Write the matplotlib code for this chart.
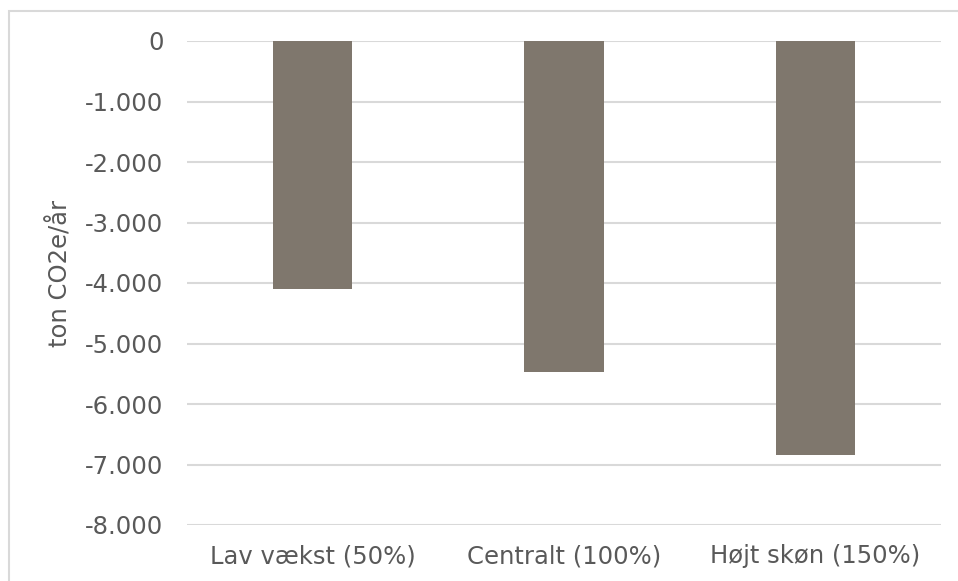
import matplotlib
matplotlib.use("Agg")
import matplotlib.pyplot as plt
from matplotlib.ticker import FuncFormatter, MultipleLocator
from matplotlib.patches import Rectangle

categories = ["Lav vækst (50%)", "Centralt (100%)", "Højt skøn (150%)"]
values = [-4100, -5470, -6840]
y_label = "ton CO2e/år"

bar_color = "#7F776D"
text_color = "#595959"
grid_color = "#D9D9D9"
font_size = 17.5

plt.rcParams["font.family"] = ["DejaVu Sans"]

fig = plt.figure(figsize=(9.58, 5.81), dpi=100)
fig.patch.set_facecolor("white")

# light outer frame around the chart area
fig.add_artist(Rectangle((9 / 958, -0.05), 1.2, 1 - 11 / 581 + 0.05,
                         transform=fig.transFigure, fill=False,
                         edgecolor=grid_color, linewidth=1.5))

ax = fig.add_axes([187 / 958, 1 - 525 / 581, (941 - 187) / 958, (525 - 41) / 581])
x = range(len(categories))
ax.bar(x, values, width=0.315, color=bar_color, zorder=3)

ax.set_xlim(-0.5, len(categories) - 0.5)
ax.set_ylim(-8000, 0)
ax.yaxis.set_major_locator(MultipleLocator(1000))
ax.yaxis.set_major_formatter(FuncFormatter(
    lambda v, pos: f"{int(round(v)):,}".replace(",", ".")))
ax.grid(axis="y", color=grid_color, linewidth=1.5, zorder=0)
ax.set_axisbelow(True)

for s in ax.spines.values():
    s.set_visible(False)

ax.set_xticks(list(x))
ax.set_xticklabels(categories)
ax.tick_params(axis="both", length=0, labelsize=font_size, labelcolor=text_color)
ax.tick_params(axis="y", pad=17)
ax.tick_params(axis="x", pad=14)

ax.set_ylabel(y_label, fontsize=font_size, color=text_color)
ax.yaxis.set_label_coords(-0.152, 0.52)

fig.savefig("out.png", dpi=100, facecolor="white")
